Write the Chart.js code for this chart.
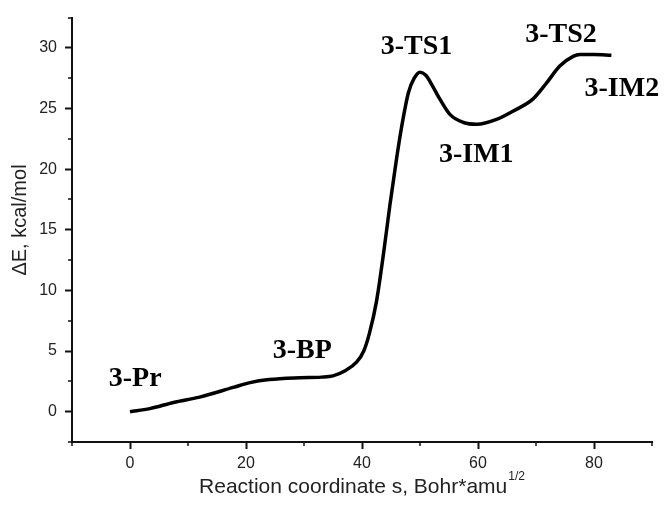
<!DOCTYPE html>
<html>
<head>
<meta charset="utf-8">
<script src="https://cdn.jsdelivr.net/npm/chart.js@4"></script>
<style>
  html, body { margin: 0; padding: 0; background: #fff; }
  #wrap { width: 664px; height: 510px; }
</style>
</head>
<body>
<div id="wrap"><canvas id="chart"></canvas></div>
<script>
// reaction path
const coordS = [0, 3.4, 7.5, 12, 17.8, 20.7, 24, 29.3, 33, 35, 37, 39.1, 40.3, 41.3, 42.5, 43.7, 44.8, 46, 46.8, 48, 49, 50, 51, 52, 53.4, 55.2, 57.5, 59.8, 63.2, 66.1, 69.5, 71.8, 74.1, 76.4, 77.6, 80, 83];
const energy = [0, 0.25, 0.76, 1.2, 2.0, 2.4, 2.65, 2.8, 2.85, 2.95, 3.35, 4.1, 5.0, 6.5, 9.1, 13.0, 17.0, 21.0, 23.4, 26.3, 27.5, 28.0, 27.75, 27.0, 25.8, 24.5, 23.85, 23.7, 24.1, 24.8, 25.8, 27.1, 28.5, 29.3, 29.45, 29.45, 29.4];

// stationary point labels (anchored in data units)
const stateNames = ['3-Pr', '3-BP', '3-TS1', '3-IM1', '3-TS2', '3-IM2'];
const stateS = [0.9, 29.7, 49.4, 59.7, 74.3, 84.8];
const stateE = [2.7, 5.0, 30.1, 21.2, 31.1, 26.6];

// labelled ticks, the rest are minor
const xLabelTicks = [0, 20, 40, 60, 80];
const yLabelTicks = [0, 5, 10, 15, 20, 25, 30];

const xTitle = 'Reaction coordinate s, Bohr*amu';
const xTitleSup = '1/2';
const yTitle = 'ΔE, kcal/mol';

const sansFont = "'Liberation Sans', Arial, sans-serif";
const serifFont = "'Liberation Serif', 'Times New Roman', serif";

const isMajor = (list, v) => list.some(t => Math.abs(t - v) < 1e-6);

const decor = {
  id: 'decor',
  afterDraw(chart) {
    const { ctx, chartArea } = chart;
    const xs = chart.scales.x;
    const ys = chart.scales.y;
    ctx.save();

    // minor ticks (shorter)
    ctx.strokeStyle = '#111';
    ctx.lineWidth = 1.5;
    ctx.beginPath();
    xs.ticks.forEach(t => {
      if (isMajor(xLabelTicks, t.value)) return;
      const px = Math.round(xs.getPixelForValue(t.value));
      ctx.moveTo(px, chartArea.bottom);
      ctx.lineTo(px, chartArea.bottom + 4);
    });
    ys.ticks.forEach(t => {
      if (isMajor(yLabelTicks, t.value)) return;
      const py = Math.round(ys.getPixelForValue(t.value));
      ctx.moveTo(chartArea.left, py);
      ctx.lineTo(chartArea.left - 4, py);
    });
    ctx.stroke();

    // x axis title with superscript
    ctx.fillStyle = '#222';
    ctx.textBaseline = 'alphabetic';
    ctx.textAlign = 'left';
    ctx.font = '21px ' + sansFont;
    const wMain = ctx.measureText(xTitle).width;
    ctx.font = '12px ' + sansFont;
    const wSup = ctx.measureText(xTitleSup).width;
    const cx = (chartArea.left + chartArea.right) / 2;
    const x0 = cx - (wMain + wSup + 1) / 2;
    ctx.font = '21px ' + sansFont;
    ctx.fillText(xTitle, x0, 493);
    ctx.font = '12px ' + sansFont;
    ctx.fillText(xTitleSup, x0 + wMain + 1, 480);

    // y axis title
    ctx.save();
    ctx.translate(20, 220);
    ctx.rotate(-Math.PI / 2);
    ctx.textAlign = 'center';
    ctx.textBaseline = 'middle';
    ctx.font = '20px ' + sansFont;
    ctx.fillText(yTitle, 0, 0);
    ctx.restore();

    // state labels
    ctx.fillStyle = '#000';
    ctx.font = 'bold 28px ' + serifFont;
    ctx.textAlign = 'center';
    ctx.textBaseline = 'middle';
    stateNames.forEach((name, i) => {
      ctx.fillText(name, xs.getPixelForValue(stateS[i]), ys.getPixelForValue(stateE[i]));
    });
    ctx.restore();
  }
};

new Chart(document.getElementById('chart'), {
  type: 'line',
  data: {
    datasets: [
      {
        data: coordS.map((s, i) => ({ x: s, y: energy[i] })),
        borderColor: '#000',
        borderWidth: 3.5,
        pointRadius: 0,
        fill: false,
        cubicInterpolationMode: 'monotone',
      },
    ],
  },
  options: {
    responsive: true,
    maintainAspectRatio: false,
    animation: false,
    layout: { padding: { top: 15, right: 12, left: 0, bottom: 0 } },
    plugins: {
      legend: { display: false },
      tooltip: { enabled: false },
    },
    scales: {
      x: {
        type: 'linear',
        min: -10,
        max: 90,
        afterFit: s => { s.height = 68; },
        border: { display: true, color: '#111', width: 2 },
        grid: {
          drawOnChartArea: false,
          drawTicks: true,
          tickLength: 7,
          tickWidth: 2,
          tickColor: c => (isMajor(xLabelTicks, c.tick.value) ? '#111' : 'rgba(0,0,0,0)'),
        },
        ticks: {
          stepSize: 10,
          autoSkip: false,
          maxRotation: 0,
          padding: 5,
          color: '#222',
          font: { family: sansFont, size: 16 },
          callback: v => (isMajor(xLabelTicks, v) ? String(v) : ''),
        },
      },
      y: {
        min: -2.5,
        max: 32.5,
        afterFit: s => { s.width = 72; },
        border: { display: true, color: '#111', width: 2 },
        grid: {
          drawOnChartArea: false,
          drawTicks: true,
          tickLength: 7,
          tickWidth: 2,
          tickColor: c => (isMajor(yLabelTicks, c.tick.value) ? '#111' : 'rgba(0,0,0,0)'),
        },
        ticks: {
          stepSize: 2.5,
          autoSkip: false,
          padding: 8,
          color: '#222',
          font: { family: sansFont, size: 16 },
          callback: v => (isMajor(yLabelTicks, v) ? String(v) : ''),
        },
      },
    },
  },
  plugins: [decor],
});
</script>
</body>
</html>
